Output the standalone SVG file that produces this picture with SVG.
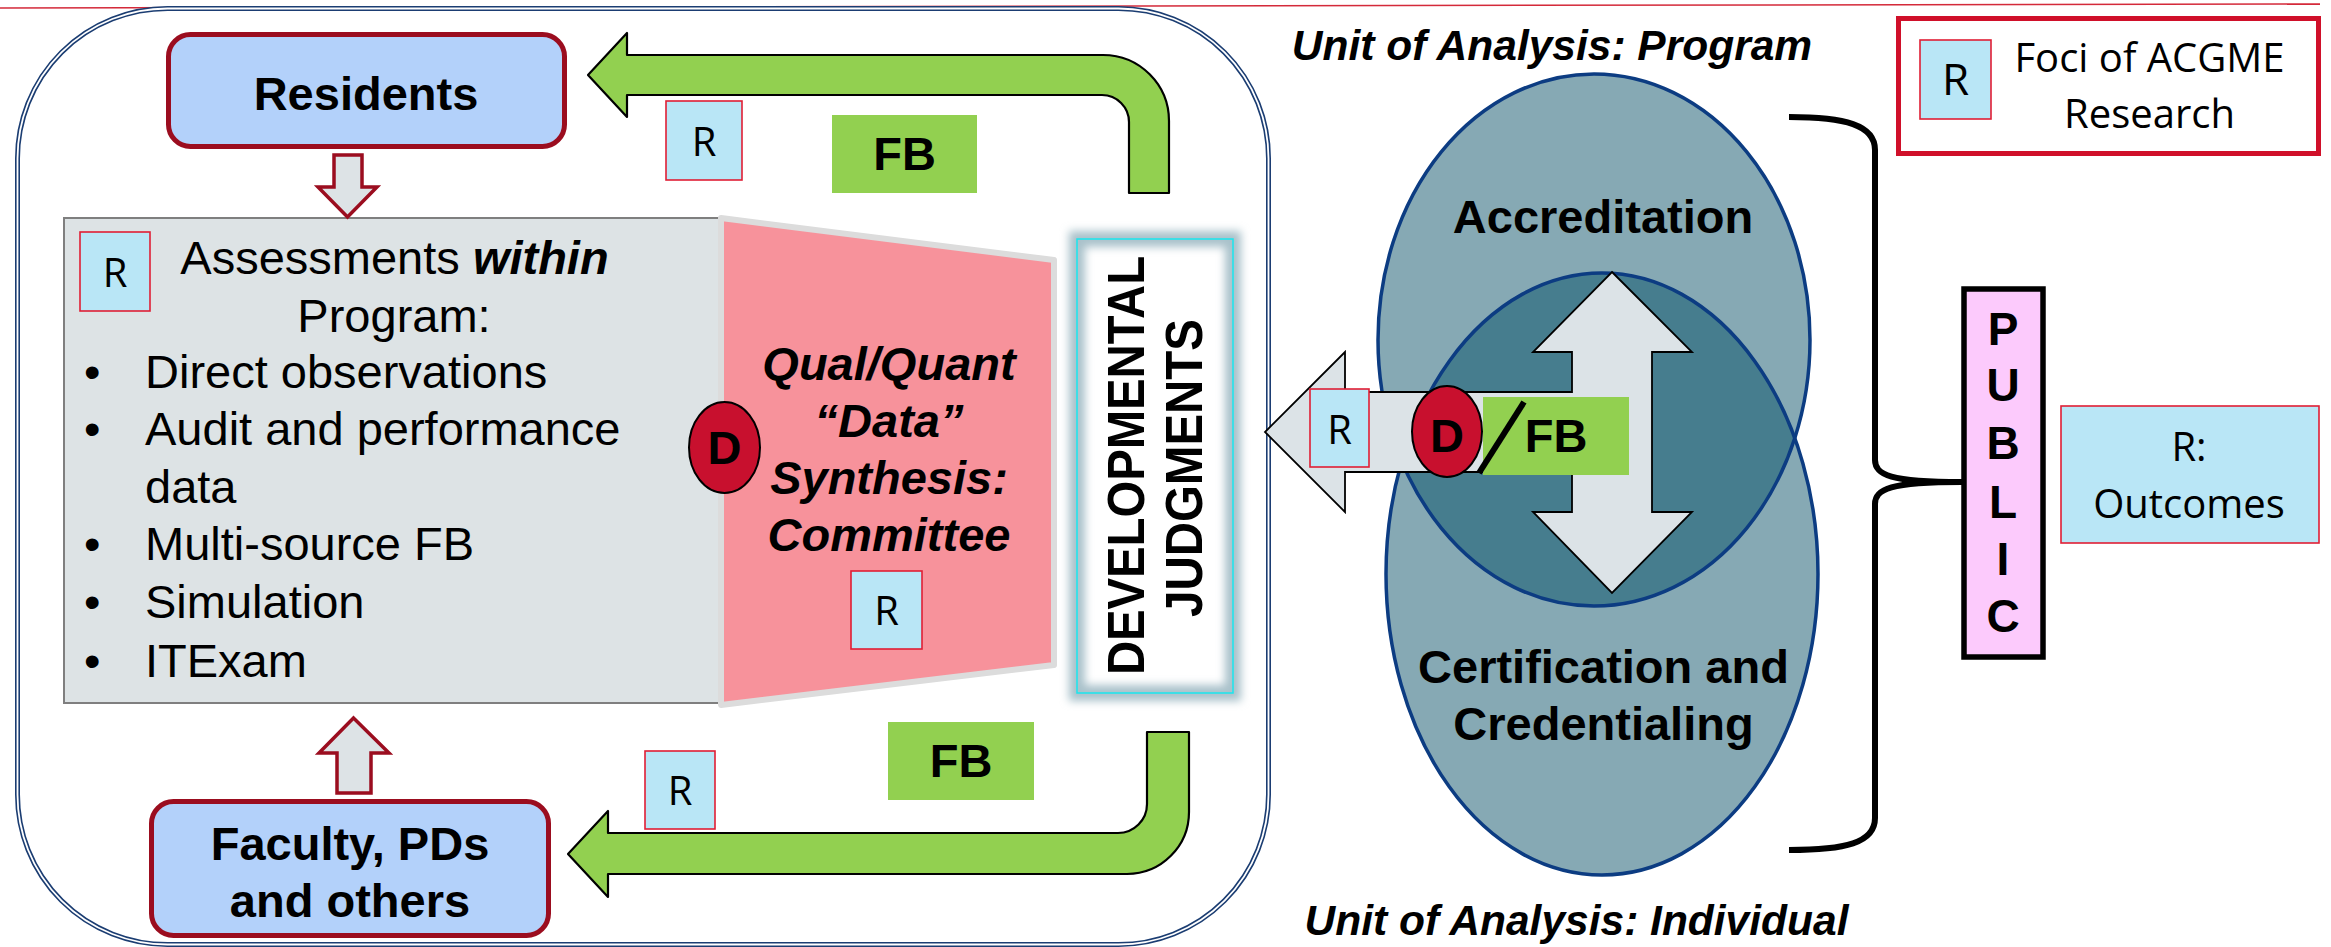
<svg xmlns="http://www.w3.org/2000/svg" width="2331" height="947" viewBox="0 0 2331 947">
<defs>
<style>
.t{font-family:"Liberation Sans",Arial,sans-serif;fill:#000}
.b{font-weight:bold}
.bi{font-weight:bold;font-style:italic}
.c{font-family:"Open Sans","Noto Sans",sans-serif;fill:#000}
.mid{text-anchor:middle}
.rbox{fill:#b9e6f6;stroke:#e01f35;stroke-width:1.6}
.fb{fill:#92d050}
.garrow{fill:#92d050;stroke:#000;stroke-width:2.2;stroke-linejoin:round}
.people{fill:#b3d1fa;stroke:#9b0d1f;stroke-width:5}
.redarrow{fill:#dde3e6;stroke:#9b0d1f;stroke-width:3.5;stroke-linejoin:miter}
.dmark{fill:#c8102e;stroke:#000;stroke-width:2}
.ring{fill:none;stroke:#0c3c82;stroke-width:3.5}
</style>
<filter id="glow" x="-30%" y="-10%" width="160%" height="120%"><feGaussianBlur stdDeviation="4"/></filter>
<clipPath id="clipUpper"><ellipse cx="1594" cy="340" rx="216" ry="266"/></clipPath>
</defs>

<rect width="2331" height="947" fill="#fff"/>
<line x1="0" y1="8" x2="2320" y2="4" stroke="#d42a3a" stroke-width="1.5"/>

<!-- program frame (double line) -->
<g id="program-frame">
<rect x="17.5" y="8.5" width="1251" height="936" rx="150" fill="none" stroke="#1b3d72" stroke-width="5"/>
<rect x="17.5" y="8.5" width="1251" height="936" rx="150" fill="none" stroke="#fff" stroke-width="1.8"/>
</g>

<!-- assessments within program -->
<g id="assessments">
<rect x="64" y="218" width="655" height="485" fill="#dde3e5" stroke="#7f7f7f" stroke-width="2"/>
<rect class="rbox" x="80" y="232" width="70" height="79"/>
<text class="c mid" x="115" y="287" font-size="40">R</text>
<text class="t mid" x="394.5" y="274" font-size="47">Assessments <tspan class="bi">within</tspan></text>
<text class="t mid" x="394" y="332" font-size="47">Program:</text>
<g class="t" font-size="47">
<text x="84" y="388">•</text><text x="145" y="388">Direct observations</text>
<text x="84" y="445">•</text><text x="145" y="445">Audit and performance</text>
<text x="145" y="503">data</text>
<text x="84" y="560">•</text><text x="145" y="560">Multi-source FB</text>
<text x="84" y="618">•</text><text x="145" y="618">Simulation</text>
<text x="84" y="677">•</text><text x="145" y="677">ITExam</text>
</g>
</g>

<!-- committee synthesis -->
<g id="synthesis">
<polygon points="721,218 1054,260 1054,665 721,705" fill="#f7929b" stroke="#dcdcdc" stroke-width="6" stroke-linejoin="round"/>
<g class="t bi mid" font-size="47">
<text x="889" y="380">Qual/Quant</text>
<text x="889" y="437">“Data”</text>
<text x="889" y="494">Synthesis:</text>
<text x="889" y="551">Committee</text>
</g>
<rect class="rbox" x="851" y="571" width="71" height="78"/>
<text class="c mid" x="886.5" y="625" font-size="40">R</text>
<ellipse class="dmark" cx="724.5" cy="447.5" rx="35.5" ry="45.5"/>
<text class="t b mid" x="724.5" y="464" font-size="47">D</text>
</g>

<!-- developmental judgments -->
<g id="judgments">
<rect x="1077" y="239" width="156" height="454" fill="#fff"/>
<rect x="1077" y="239" width="156" height="454" fill="none" stroke="#a9c1ca" stroke-width="16" filter="url(#glow)"/>
<rect x="1077" y="239" width="156" height="454" fill="none" stroke="#19e6ee" stroke-width="1.5"/>
<text class="t b mid" font-size="52" transform="translate(1144,465.5) rotate(-90)" textLength="419" lengthAdjust="spacingAndGlyphs">DEVELOPMENTAL</text>
<text class="t b mid" font-size="52" transform="translate(1202,468) rotate(-90)" textLength="298" lengthAdjust="spacingAndGlyphs">JUDGMENTS</text>
</g>

<!-- residents -->
<g id="residents">
<rect class="people" x="168.5" y="34.5" width="396" height="112" rx="22"/>
<text class="t b mid" x="366" y="110" font-size="47">Residents</text>
</g>

<!-- faculty -->
<g id="faculty">
<rect class="people" x="151.5" y="801.5" width="397" height="134" rx="22"/>
<text class="t b mid" x="350" y="860" font-size="47">Faculty, PDs</text>
<text class="t b mid" x="350" y="917" font-size="47">and others</text>
</g>

<!-- accreditation / certification -->
<g id="accreditation-certification">
<ellipse cx="1594" cy="340" rx="216" ry="266" fill="#86a9b4"/>
<ellipse cx="1602" cy="574" rx="216" ry="301" fill="#86a9b4"/>
<ellipse cx="1602" cy="574" rx="216" ry="301" fill="#467d8e" clip-path="url(#clipUpper)"/>
<ellipse class="ring" cx="1594" cy="340" rx="216" ry="266"/>
<ellipse class="ring" cx="1602" cy="574" rx="216" ry="301"/>
<text class="t b mid" x="1603" y="233" font-size="47">Accreditation</text>
<text class="t b mid" x="1603.5" y="683" font-size="47">Certification and</text>
<text class="t b mid" x="1603.5" y="740" font-size="47">Credentialing</text>
</g>

<!-- connectors -->
<g id="connectors">
<path class="garrow" d="M588,75 L627,33 L627,55 L1103,55 A66,66 0 0 1 1169,121 L1169,193 L1129,193 L1129,122 A27,27 0 0 0 1102,95 L627,95 L627,117 Z"/>
<path class="garrow" d="M568,854 L608,811 L608,833 L1118,833 A29,29 0 0 0 1147,804 L1147,732 L1189,732 L1189,812 A62,62 0 0 1 1127,874 L608,874 L608,897 Z"/>
<polygon class="redarrow" points="334,155 362,155 362,187 377,187 347.5,217 318,187 334,187"/>
<polygon class="redarrow" points="353.5,718 389,753 371,753 371,793 337,793 337,753 319,753"/>
<polygon points="1612,272 1692,352 1652,352 1652,512 1692,512 1612,593 1533,512 1572,512 1572,472 1345,472 1345,512 1265,432 1345,352 1345,392 1572,392 1572,352 1533,352" fill="#dce3e7" stroke="#000" stroke-width="1.8" stroke-linejoin="miter"/>
<path d="M1789,117 C1845,117 1875,125 1875,150 L1875,460 C1875,475 1890,482 1962,482 C1890,482 1875,489 1875,504 L1875,818 C1875,843 1845,850 1789,850" fill="none" stroke="#000" stroke-width="6"/>
</g>

<!-- feedback and research markers -->
<g id="feedback-top">
<rect class="rbox" x="666" y="101" width="76" height="79"/>
<text class="c mid" x="704" y="156" font-size="40">R</text>
<rect class="fb" x="832" y="115" width="145" height="78"/>
<text class="t b mid" x="904.5" y="170" font-size="47">FB</text>
</g>
<g id="feedback-bottom">
<rect class="rbox" x="645" y="751" width="70" height="78"/>
<text class="c mid" x="680" y="805" font-size="40">R</text>
<rect class="fb" x="888" y="722" width="146" height="78"/>
<text class="t b mid" x="961" y="777" font-size="47">FB</text>
</g>
<g id="judgment-output">
<rect class="rbox" x="1310" y="389" width="59" height="78"/>
<text class="c mid" x="1339.5" y="444" font-size="40">R</text>
<ellipse class="dmark" cx="1447" cy="431.5" rx="35" ry="45.5"/>
<text class="t b mid" x="1447" y="452" font-size="47">D</text>
<rect class="fb" x="1483" y="397" width="146" height="78"/>
<line x1="1524" y1="402" x2="1479" y2="473" stroke="#000" stroke-width="6"/>
<text class="t b mid" x="1556" y="452" font-size="47">FB</text>
</g>

<!-- unit labels -->
<g id="unit-labels">
<text class="t bi mid" x="1552" y="60" font-size="42.5">Unit of Analysis: Program</text>
<text class="t bi mid" x="1576.5" y="935" font-size="42.5">Unit of Analysis: Individual</text>
</g>

<!-- public -->
<g id="public">
<rect x="1964" y="289" width="79" height="368" fill="#fccafc" stroke="#000" stroke-width="5.5"/>
<g class="t b mid" font-size="46">
<text x="2003" y="345">P</text>
<text x="2003" y="401">U</text>
<text x="2003" y="459">B</text>
<text x="2003" y="518">L</text>
<text x="2003" y="575">I</text>
<text x="2003" y="632">C</text>
</g>
</g>

<!-- outcomes -->
<g id="outcomes">
<rect class="rbox" x="2061" y="406" width="258" height="137"/>
<text class="c mid" x="2189" y="461" font-size="40">R:</text>
<text class="c mid" x="2189" y="518" font-size="40">Outcomes</text>
</g>

<!-- legend -->
<g id="legend">
<rect x="1898.5" y="18.5" width="420" height="135" fill="#fff" stroke="#d0102a" stroke-width="5"/>
<rect class="rbox" x="1920" y="40" width="71" height="79"/>
<text class="c mid" x="1955.5" y="95" font-size="44">R</text>
<text class="c mid" x="2149.5" y="72" font-size="40">Foci of ACGME</text>
<text class="c mid" x="2149.5" y="128" font-size="40">Research</text>
</g>
</svg>
